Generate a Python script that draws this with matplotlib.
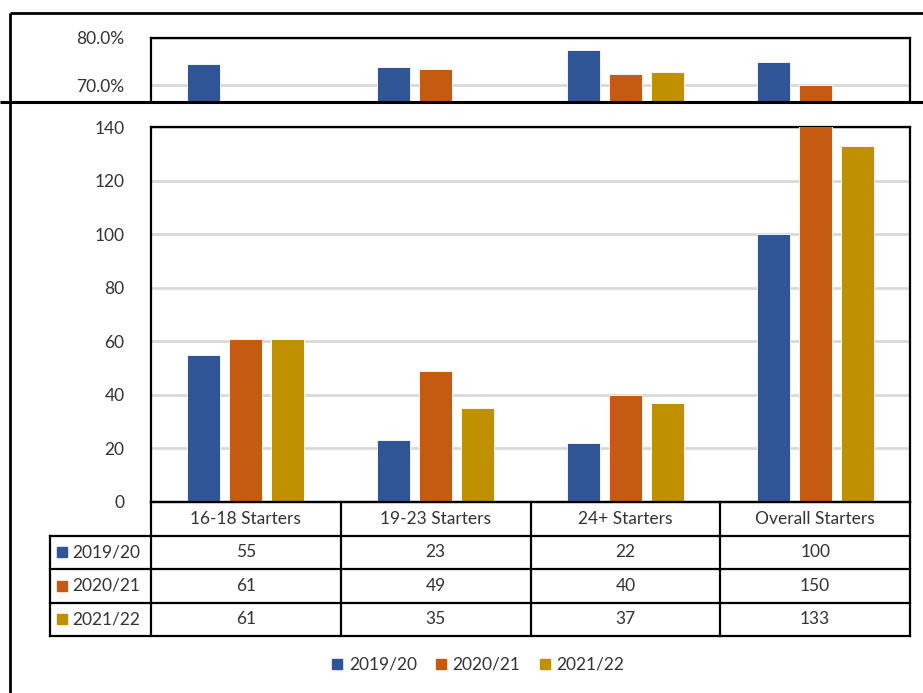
import numpy as np
import matplotlib.pyplot as plt
from matplotlib.lines import Line2D

plt.rcParams['font.family'] = ['Lato', 'DejaVu Sans']

# Data
categories = ['16-18 Starters', '19-23 Starters', '24+ Starters', 'Overall Starters']
years = ['2019/20', '2020/21', '2021/22']
starters_1920 = [55, 23, 22, 100]
starters_2021 = [61, 49, 40, 150]
starters_2122 = [61, 35, 37, 133]
# percentages visible in the cropped strip above the chart (NaN = not visible)
pct_1920 = [74.5, 73.8, 77.4, 74.9]
pct_2021 = [np.nan, 73.3, 72.4, 70.1]
pct_2122 = [np.nan, np.nan, 72.8, np.nan]

colors = ['#2F5597', '#C55A11', '#BF9000']
text_col = '#333333'
grid_col = '#D9D9D9'
fs = 12.5

W, H = 923, 693
fig = plt.figure(figsize=(W / 100, H / 100), dpi=100)


def rect(x0, y0, x1, y1):
    # pixel box (top-left origin) -> figure fraction
    return [x0 / W, 1 - y1 / H, (x1 - x0) / W, (y1 - y0) / H]


def fline(xs, ys, lw=2.0):
    fig.add_artist(Line2D([x / W for x in xs], [1 - y / H for y in ys],
                          color='black', lw=lw, solid_capstyle='butt'))


x = np.arange(len(categories))
bw = 0.174
step = 0.221
main_series = [starters_1920, starters_2021, starters_2122]
pct_series = [pct_1920, pct_2021, pct_2122]

# ---- cropped strip on top ----
ax_top = fig.add_axes(rect(151, 38, 910, 101))
for i, vals in enumerate(pct_series):
    ax_top.bar(x + (i - 1) * step, vals, width=bw, color=colors[i],
               edgecolor='white', linewidth=0.6, zorder=3)
ax_top.set_xlim(-0.5, 3.5)
ax_top.set_ylim(70 - 16 / 4.7, 80)
ax_top.set_yticks([70, 80])
ax_top.set_yticklabels(['70.0%', '80.0%'])
ax_top.set_xticks([])
ax_top.yaxis.grid(True, color=grid_col, lw=2)
ax_top.set_axisbelow(True)
ax_top.tick_params(axis='y', length=0, pad=19, labelsize=fs, labelcolor=text_col)
ax_top.spines['bottom'].set_visible(False)
for s in ['top', 'left', 'right']:
    ax_top.spines[s].set_linewidth(1.6)

# ---- main chart ----
ax = fig.add_axes(rect(151, 127, 910, 502))
for i, vals in enumerate(main_series):
    ax.bar(x + (i - 1) * step, vals, width=bw, color=colors[i],
           edgecolor='white', linewidth=0.6, zorder=3)
ax.set_xlim(-0.5, 3.5)
ax.set_ylim(0, 140)
ax.set_yticks(range(0, 141, 20))
ax.set_xticks([])
ax.yaxis.grid(True, color=grid_col, lw=2)
ax.set_axisbelow(True)
ax.tick_params(axis='y', length=0, pad=19, labelsize=fs, labelcolor=text_col)
for s in ax.spines.values():
    s.set_linewidth(1.6)

# ---- data table ----
col_w = (910 - 151) / 4
lab_w = (151 - 50) / col_w
axt = fig.add_axes(rect(50, 502, 910, 636))
axt.set_xlim(-0.5 - lab_w, 3.5)
axt.set_ylim(4, 0)
axt.axis('off')
lk = dict(color='black', lw=1.6, solid_capstyle='projecting', clip_on=False)
axt.plot([-0.5, 3.5], [0, 0], **lk)
for r in range(1, 5):
    axt.plot([-0.5 - lab_w, 3.5], [r, r], **lk)
for c in range(5):
    axt.plot([c - 0.5, c - 0.5], [0, 4], **lk)
axt.plot([-0.5 - lab_w, -0.5 - lab_w], [1, 4], **lk)
for c, cat in enumerate(categories):
    axt.text(c, 0.5, cat, ha='center', va='center', fontsize=fs, color=text_col)
for r, vals in enumerate(main_series):
    axt.plot(-0.5 - lab_w + 12 / col_w, r + 1.5, 's', ms=6.5, color=colors[r], clip_on=False)
    axt.text(-0.5 - lab_w + 22 / col_w, r + 1.5, years[r], ha='left', va='center',
             fontsize=fs, color=text_col)
    for c, v in enumerate(vals):
        axt.text(c, r + 1.5, str(v), ha='center', va='center', fontsize=fs, color=text_col)

# ---- legend ----
handles = [Line2D([], [], marker='s', ls='none', ms=7, color=c) for c in colors]
fig.legend(handles, years, loc='center', bbox_to_anchor=(478 / W, 1 - 665 / H),
           ncol=3, frameon=False, fontsize=fs, handlelength=0.6, handletextpad=0.35,
           columnspacing=1.1, labelcolor=text_col)

# ---- screenshot borders ----
fline([10, 923], [13, 13], lw=2.0)
fline([10, 10], [13, 693], lw=2.0)
fline([0, 923], [101.5, 101.5], lw=2.2)

fig.savefig('out.png', dpi=100)
